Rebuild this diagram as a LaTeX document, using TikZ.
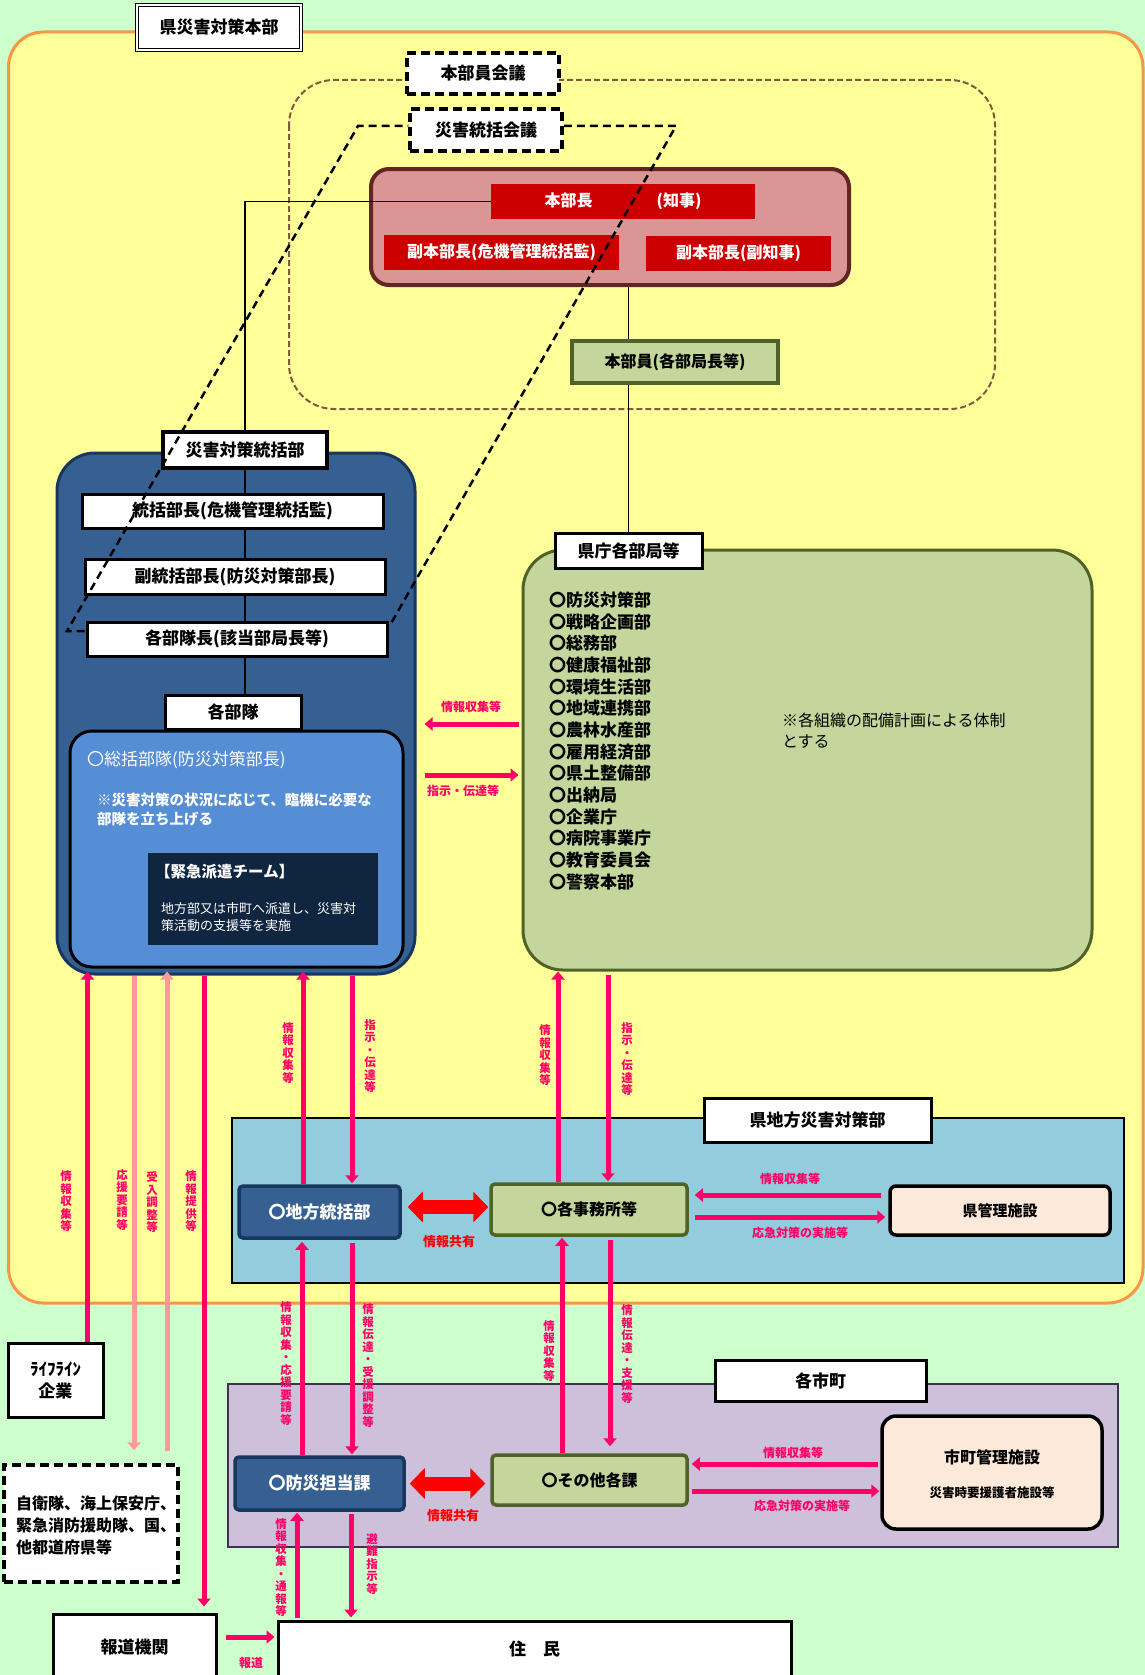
\documentclass[tikz,border=0pt]{standalone}
\usepackage{fontspec}
\setmainfont{Noto Sans CJK JP}
\usepackage{tikz}
\usetikzlibrary{arrows.meta, positioning, calc}

\definecolor{bggreen}{HTML}{CCFFCC}
\definecolor{hqyellow}{HTML}{FFFF99}
\definecolor{hqorange}{HTML}{F79646}
\definecolor{roseF}{HTML}{D99694}
\definecolor{roseD}{HTML}{632523}
\definecolor{barred}{HTML}{CC0000}
\definecolor{oliveF}{HTML}{C3D69B}
\definecolor{oliveD}{HTML}{4F6228}
\definecolor{steelF}{HTML}{376092}
\definecolor{steelD}{HTML}{17375E}
\definecolor{skyF}{HTML}{558ED5}
\definecolor{navyF}{HTML}{10253F}
\definecolor{arrowpink}{HTML}{FF0066}
\definecolor{softpink}{HTML}{FF9999}
\definecolor{aquaF}{HTML}{93CDDD}
\definecolor{lilacF}{HTML}{CCC0DA}
\definecolor{lilacD}{HTML}{403151}
\definecolor{peachF}{HTML}{FDE9D9}
\definecolor{brownD}{HTML}{7F5A3F}

\newcommand{\jpsz}[2]{\fontsize{#1}{#2}\selectfont}

\begin{document}
\begin{tikzpicture}[x=1pt, y=-1pt,
    wbox/.style={draw=black, fill=white, line width=3pt, inner sep=0pt, font=\jpsz{17pt}{22pt}\bfseries},
    dbox/.style={wbox, line width=3.5pt, dash pattern=on 9pt off 5pt},
    redbar/.style={fill=barred, text=white, inner sep=0pt, font=\jpsz{16pt}{20pt}\bfseries},
    olivebox/.style={draw=oliveD, fill=oliveF, line width=3.5pt, rounded corners=4pt, inner sep=0pt, font=\jpsz{16pt}{20pt}\bfseries},
    steelbox/.style={draw=steelD, fill=steelF, line width=3.5pt, rounded corners=4pt, inner sep=0pt, text=white, font=\jpsz{17pt}{20pt}\bfseries},
    peachbox/.style={draw=black, fill=peachF, line width=3.5pt, rounded corners=6pt, inner sep=0pt, font=\jpsz{15pt}{18pt}\bfseries},
    link/.style={line width=1.3pt},
    pk/.style={-{Triangle[width=13pt,length=8pt]}, line width=5pt, arrowpink},
    lpk/.style={pk, softpink},
    dbl/.style={{Triangle[width=30pt,length=15pt]}-{Triangle[width=30pt,length=15pt]}, line width=14pt, red},
    vlab/.style={text=arrowpink, align=center, inner sep=0pt, font=\jpsz{11.5pt}{12.5pt}\bfseries},
    hlab/.style={text=arrowpink, inner sep=0pt, font=\jpsz{12pt}{14pt}\bfseries},
    shlab/.style={text=red, inner sep=0pt, font=\jpsz{13pt}{15pt}\bfseries}
]

% Page
\fill[bggreen] (0,0) rectangle (1145,1675);
\useasboundingbox (0,0) rectangle (1145,1675);

% Prefecture HQ frame
\draw[fill=hqyellow, draw=hqorange, line width=3pt, rounded corners=35pt] (8.5,32) rectangle (1143,1303);
\draw[brownD, line width=2pt, dash pattern=on 6pt off 3pt, rounded corners=45pt] (289,80) rectangle (995,409);
\node[wbox, line width=1.2pt, double=white, double distance=1.5pt, minimum width=164pt, minimum height=45pt] (title) at (219,27.5) {県災害対策本部};

% Meetings
\node[dbox, minimum width=152pt, minimum height=41pt] (kaigi) at (483,73.5) {本部員会議};
\node[dbox, minimum width=152pt, minimum height=42pt] (tokatsukaigi) at (486,130) {災害統括会議};

% Head of HQ
\node[draw=roseD, fill=roseF, line width=4pt, rounded corners=18pt, minimum width=478pt, minimum height=116pt] (hq) at (610,227) {};
\node[redbar, minimum width=264pt, minimum height=35pt] (chiji) at (623,201.5) {本部長\hspace{64pt}(知事)};
\node[redbar, minimum width=235pt, minimum height=35pt] (fuku1) at (501.5,252.5) {副本部長(危機管理統括監)};
\node[redbar, minimum width=185pt, minimum height=35pt] (fuku2) at (738.5,253.5) {副本部長(副知事)};

% Disaster control HQ
\node[draw=steelD, fill=steelF, line width=3pt, rounded corners=38pt, minimum width=358pt, minimum height=521pt] (hombu) at (236,713.5) {};
\node[draw=black, fill=skyF, line width=3pt, rounded corners=22pt, minimum width=333pt, minimum height=236pt] (sokatsu) at (236.5,849) {};
\node[wbox, line width=3.5pt, minimum width=164pt, minimum height=36pt] (tokatsu) at (245,450) {災害対策統括部};
\node[wbox, minimum width=301pt, minimum height=34pt] (bucho) at (232.5,511) {統括部長(危機管理統括監)};
\node[wbox, minimum width=300pt, minimum height=35pt] (fukubucho) at (235,576.5) {副統括部長(防災対策部長)};
\node[wbox, minimum width=300pt, minimum height=34pt] (butaicho) at (237,639) {各部隊長(該当部局長等)};
\node[wbox, minimum width=136pt, minimum height=34pt] (butai) at (233,712) {各部隊};
\foreach \a/\b in {tokatsu/bucho, bucho/fukubucho, fukubucho/butaicho, butaicho/butai}
    \draw[link] (tokatsu.south |- \a.south) -- (tokatsu.south |- \b.north);
\draw[link] (chiji.west) -| (tokatsu.north);

\node[anchor=west, text=white, inner sep=0pt, font=\jpsz{17pt}{20pt}] (sokatsutxt) at (87,760) {〇総括部隊(防災対策部長)};
\node[anchor=west, text=white, align=left, inner sep=0pt, font=\jpsz{14.5pt}{19.5pt}\bfseries] (sokatsunote) at (97,809.5) {※災害対策の状況に応じて、臨機に必要な\\部隊を立ち上げる};
\node[fill=navyF, minimum width=230pt, minimum height=92pt, inner sep=0pt] (kinkyu) at (263,899) {};
\node[anchor=west, text=white, inner sep=0pt, font=\jpsz{15.5pt}{18pt}\bfseries] (kinkyutitle) at (155,872) {【緊急派遣チーム】};
\node[anchor=west, text=white, align=left, inner sep=0pt, font=\jpsz{13pt}{17pt}] (kinkyutxt) at (161,917.5) {地方部又は市町へ派遣し、災害対\\策活動の支援等を実施};

% Prefectural departments
\node[draw=oliveD, fill=oliveF, line width=3pt, rounded corners=40pt, minimum width=569pt, minimum height=420pt] (kyoku) at (807.5,760) {};
\node[wbox, minimum width=147pt, minimum height=35pt] (kyokulab) at (628.5,550.5) {県庁各部局等};
\foreach \dept [count=\i from 0] in {防災対策部, 戦略企画部, 総務部, 健康福祉部, 環境生活部, 地域連携部, 農林水産部, 雇用経済部, 県土整備部, 出納局, 企業庁, 病院事業庁, 教育委員会, 警察本部}
    \node[anchor=west, inner sep=0pt, font=\jpsz{17pt}{20pt}\bfseries] (dept\i) at (549, 600+21.67*\i) {〇\dept};
\node[anchor=west, align=left, inner sep=0pt, font=\jpsz{16pt}{21pt}] (kyokunote) at (782,730.5) {※各組織の配備計画による体制\\とする};

% Members
\draw[link] (hq.south -| kyokulab.north) -- (kyokulab.north |- 0,341);
\draw[link] (kyokulab.north |- 0,383) -- (kyokulab.north);
\node[olivebox, rounded corners=0pt, minimum width=206pt, minimum height=42pt] (honbuin) at (675,362) {本部員(各部局長等)};

% Regional office
\node[draw=black, fill=aquaF, line width=2.5pt, minimum width=892pt, minimum height=165pt] (chihoarea) at (678,1200.5) {};
\node[wbox, minimum width=227pt, minimum height=44pt] (chiholab) at (817.5,1120) {県地方災害対策部};
\node[steelbox, minimum width=161pt, minimum height=52pt] (chiho) at (319.5,1212) {〇地方統括部};
\node[olivebox, minimum width=196pt, minimum height=51pt] (jimusho) at (589,1209.5) {〇各事務所等};
\node[peachbox, minimum width=220pt, minimum height=49pt] (kenkanri) at (1000,1210.5) {県管理施設};

% Municipalities
\node[draw=lilacD, fill=lilacF, line width=2.5pt, minimum width=890pt, minimum height=163pt] (shichoarea) at (673,1465.5) {};
\node[wbox, minimum width=211pt, minimum height=41pt] (shicholab) at (820.5,1380.5) {各市町};
\node[steelbox, minimum width=169pt, minimum height=53pt] (bosai) at (319.5,1483.5) {〇防災担当課};
\node[olivebox, minimum width=195pt, minimum height=50pt] (sonota) at (589.5,1480) {〇その他各課};
\node[peachbox, rounded corners=14pt, minimum width=220pt, minimum height=113pt] (shikanri) at (992,1472.5) {};
\node[font=\jpsz{16pt}{18pt}\bfseries, inner sep=0pt] (shikanri1) at ($(shikanri.center)+(0,-15.5)$) {市町管理施設};
\node[font=\jpsz{12.5pt}{14pt}\bfseries, inner sep=0pt] (shikanri2) at ($(shikanri.center)+(0,20.5)$) {災害時要援護者施設等};

% Outside organisations
\node[wbox, align=center, minimum width=95pt, minimum height=74pt] (lifeline) at (55.5,1380) {ﾗｲﾌﾗｲﾝ\\企業};
\node[dbox, minimum width=174pt, minimum height=117pt] (jieitai) at (91,1523.5) {};
\node[anchor=west, align=left, inner sep=0pt, font=\jpsz{16pt}{22pt}\bfseries] (jieitaitxt) at (16,1525) {自衛隊、海上保安庁、\\緊急消防援助隊、国、\\他都道府県等};
\node[wbox, minimum width=163pt, minimum height=66pt] (hodo) at (134.5,1647) {報道機関};
\node[wbox, minimum width=513pt, minimum height=56pt] (jumin) at (534.5,1649) {住\hspace{17pt}民};

% Arrows HQ <-> departments
\draw[pk, shorten <=3pt, shorten >=8pt] ($(kyoku.west)+(0,-36)$) -- ($(kyoku.west -| hombu.east)+(0,-36)$);
\draw[pk, shorten <=8pt, shorten >=3pt] ($(kyoku.west -| hombu.east)+(0,15)$) -- ($(kyoku.west)+(0,15)$);
\node[hlab] at (471,707) {情報収集等};
\node[hlab] at (463,791) {指示・伝達等};

% Vertical arrows from HQ
\draw[pk] ($(lifeline.north)+(32,0)$) -- ($(lifeline.north |- hombu.south)+(32,-4)$);
\draw[lpk] ($(jieitai.north |- hombu.south)+(43,0)$) -- ($(jieitai.north)+(43,-13)$);
\draw[lpk] ($(jieitai.north)+(76,-12)$) -- ($(jieitai.north |- hombu.south)+(76,-4)$);
\draw[pk] ($(hodo.north |- hombu.south)+(69.5,0)$) -- ($(hodo.north)+(69.5,-6)$);
\draw[pk] ($(chiho.north)+(-16.5,0)$) -- ($(chiho.north |- hombu.south)+(-16.5,-4)$);
\draw[pk] ($(chiho.north |- hombu.south)+(32.5,0)$) -- ($(chiho.north)+(32.5,-1)$);
\draw[pk] ($(jimusho.north)+(-31,0)$) -- ($(jimusho.north |- kyoku.south)+(-31,0)$);
\draw[pk] ($(jimusho.north |- kyoku.south)+(19,3)$) -- ($(jimusho.north)+(19,-1)$);

\node[vlab] at (66,1201.5) {情\\報\\収\\集\\等};
\node[vlab] at (122,1200) {応\\援\\要\\請\\等};
\node[vlab] at (152,1202.5) {受\\入\\調\\整\\等};
\node[vlab] at (191,1201.5) {情\\報\\提\\供\\等};
\node[vlab] at (288,1053) {情\\報\\収\\集\\等};
\node[vlab] at (370,1056) {指\\示\\・\\伝\\達\\等};
\node[vlab] at (545,1055.5) {情\\報\\収\\集\\等};
\node[vlab] at (627,1059) {指\\示\\・\\伝\\達\\等};

% Regional office arrows
\draw[dbl] ($(chiho.east)+(6,-5)$) -- ($(chiho.east -| jimusho.west)+(-1,-5)$);
\node[shlab] at (449,1242) {情報共有};
\draw[pk] ($(kenkanri.west)+(-7,-15.5)$) -- ($(kenkanri.west -| jimusho.east)+(6,-15.5)$);
\draw[pk] ($(kenkanri.west -| jimusho.east)+(6,6.5)$) -- ($(kenkanri.west)+(-3,6.5)$);
\node[hlab] at (790,1179) {情報収集等};
\node[hlab] at (800,1233) {応急対策の実施等};

% Regional office <-> municipalities
\draw[pk] ($(bosai.north)+(-17.5,0)$) -- ($(bosai.north |- chiho.south)+(-17.5,2)$);
\draw[pk] ($(bosai.north |- chiho.south)+(32.5,3)$) -- ($(bosai.north)+(32.5,-1)$);
\draw[pk] ($(sonota.north)+(-27.5,0)$) -- ($(sonota.north |- jimusho.south)+(-27.5,1)$);
\draw[pk] ($(sonota.north |- jimusho.south)+(20.5,3)$) -- ($(sonota.north)+(20.5,-7)$);
\node[vlab] at (286,1363.5) {情\\報\\収\\集\\・\\応\\援\\要\\請\\等};
\node[vlab] at (368,1365.5) {情\\報\\伝\\達\\・\\受\\援\\調\\整\\等};
\node[vlab] at (549,1351) {情\\報\\収\\集\\等};
\node[vlab] at (627,1354) {情\\報\\伝\\達\\・\\支\\援\\等};

% Municipality arrows
\draw[dbl] ($(bosai.east)+(4,0)$) -- ($(bosai.east -| sonota.west)+(-5,0)$);
\node[shlab] at (453,1516) {情報共有};
\draw[pk] ($(shikanri.west)+(-2,-8.5)$) -- ($(shikanri.west -| sonota.east)+(3,-8.5)$);
\draw[pk] ($(shikanri.west -| sonota.east)+(3,18.5)$) -- ($(shikanri.west)+(-1,18.5)$);
\node[hlab] at (793,1453) {情報収集等};
\node[hlab] at (802,1506) {応急対策の実施等};

% Residents
\draw[pk] ($(bosai.south |- jumin.north)+(-22.5,-2)$) -- ($(bosai.south)+(-22.5,1)$);
\draw[pk] ($(bosai.south)+(31.5,2)$) -- ($(bosai.south |- jumin.north)+(31.5,-2)$);
\node[vlab] at (281,1567.5) {情\\報\\収\\集\\・\\通\\報\\等};
\node[vlab] at (372,1564) {避\\難\\指\\示\\等};
\draw[pk] ($(hodo.east)+(8,-10)$) -- ($(hodo.east -| jumin.west)+(-2,-10)$);
\node[hlab] at (251,1663) {報道};

% Disaster control meeting members
\draw[line width=2.5pt, dash pattern=on 8pt off 5pt] ($(butaicho.west)+(-1,-8)$) -- (67,631) -- (358,126) -- ($(tokatsukaigi.west)+(0,-4)$);
\draw[line width=2.5pt, dash pattern=on 8pt off 5pt] ($(tokatsukaigi.east)+(0,-4)$) -- (676,126) -- ($(butaicho.east)+(1,-13)$);

\end{tikzpicture}
\end{document}
